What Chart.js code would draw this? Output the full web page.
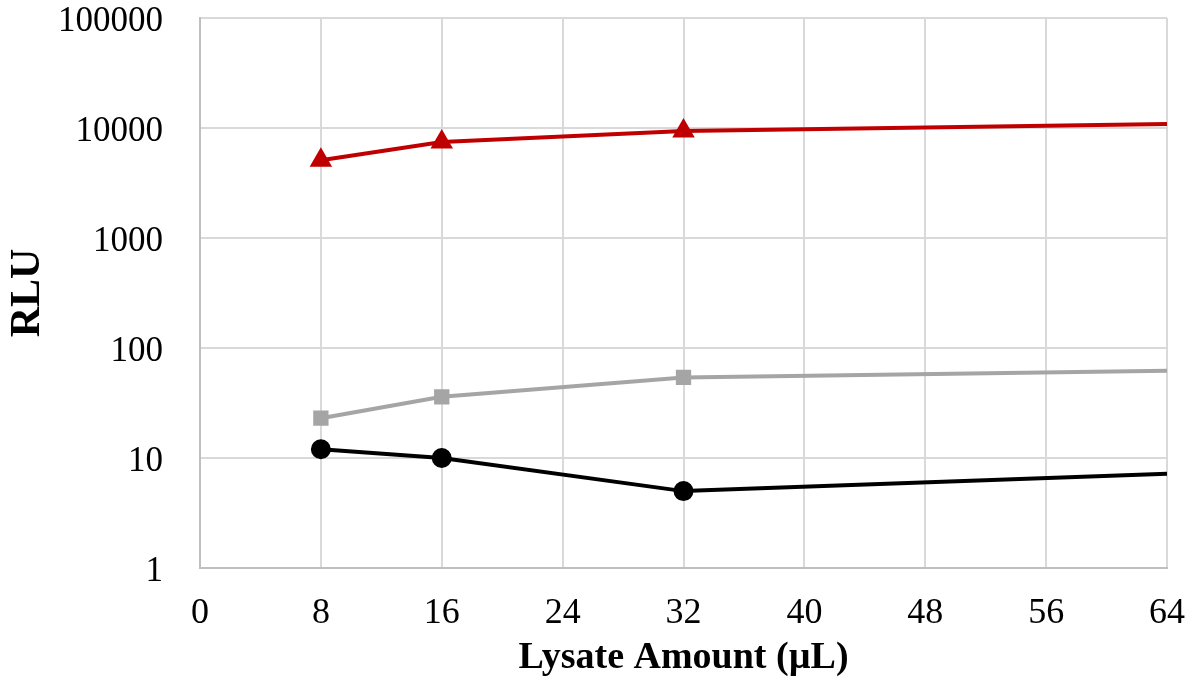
<!DOCTYPE html>
<html>
<head>
<meta charset="utf-8">
<script src="https://cdn.jsdelivr.net/npm/chart.js@4"></script>
<style>
  html, body { margin: 0; padding: 0; background: #fff; }
  #wrap { width: 1193px; height: 681px; }
</style>
</head>
<body>
<div id="wrap"><canvas id="myChart" width="1193" height="681"></canvas></div>
<script>
// lysate amount (uL)
const lysate = [8, 16, 32, 64];
// RLU values
const redSeries = [5100, 7450, 9400, 10900];
const graySeries = [23, 36, 54, 62];
const blackSeries = [12, 10, 5, 7.2];
const yTickValues = [1, 10, 100, 1000, 10000, 100000];

const font = 'Liberation Serif, Times New Roman, serif';

function pts(vals) {
    return lysate.map((x, i) => ({ x: x, y: vals[i] }));
}
// last point sits on the plot edge without a marker
const radii = [8, 8, 8, 0];

const ctx = document.getElementById('myChart').getContext('2d');
new Chart(ctx, {
    type: 'line',
    data: {
        datasets: [
            {
                label: 'red',
                data: pts(redSeries),
                borderColor: '#C00000',
                backgroundColor: '#C00000',
                borderWidth: 4,
                pointStyle: 'triangle',
                pointRadius: [9, 9, 9, 0],
                tension: 0
            },
            {
                label: 'gray',
                data: pts(graySeries),
                borderColor: '#A5A5A5',
                backgroundColor: '#A5A5A5',
                borderWidth: 4,
                pointStyle: 'rect',
                pointRadius: radii,
                tension: 0
            },
            {
                label: 'black',
                data: pts(blackSeries),
                borderColor: '#000000',
                backgroundColor: '#000000',
                borderWidth: 4,
                pointStyle: 'circle',
                pointRadius: radii,
                tension: 0
            }
        ]
    },
    options: {
        responsive: false,
        animation: false,
        layout: { padding: { top: 18, right: 26, left: 0, bottom: 0 } },
        plugins: {
            legend: { display: false },
            tooltip: { enabled: false }
        },
        scales: {
            x: {
                type: 'linear',
                min: 0,
                max: 64,
                afterFit: (s) => { s.height = 113; s.paddingLeft = 0; s.paddingRight = 0; },
                ticks: {
                    stepSize: 8,
                    color: '#000',
                    padding: 24,
                    maxRotation: 0,
                    font: { family: font, size: 36 }
                },
                grid: { color: '#D9D9D9', lineWidth: 2, drawTicks: false },
                border: { color: '#BFBFBF', width: 2 },
                title: {
                    display: true,
                    text: 'Lysate Amount (µL)',
                    color: '#000',
                    padding: { top: 0, bottom: 0 },
                    font: { family: font, size: 38, weight: 'bold' }
                }
            },
            y: {
                type: 'logarithmic',
                min: 1,
                max: 100000,
                afterFit: (s) => { s.width = 200; s.paddingTop = 0; s.paddingBottom = 0; },
                afterBuildTicks: (s) => { s.ticks = yTickValues.map(v => ({ value: v })); },
                ticks: {
                    color: '#000',
                    padding: 37,
                    labelOffset: 4,
                    font: { family: font, size: 35 },
                    callback: (v) => String(v)
                },
                grid: { color: '#D9D9D9', lineWidth: 2, drawTicks: false },
                border: { color: '#BFBFBF', width: 2 },
                title: {
                    display: true,
                    text: 'RLU',
                    color: '#000',
                    padding: { top: 3, bottom: 0 },
                    font: { family: font, size: 42, weight: 'bold' }
                }
            }
        }
    }
});
</script>
</body>
</html>
